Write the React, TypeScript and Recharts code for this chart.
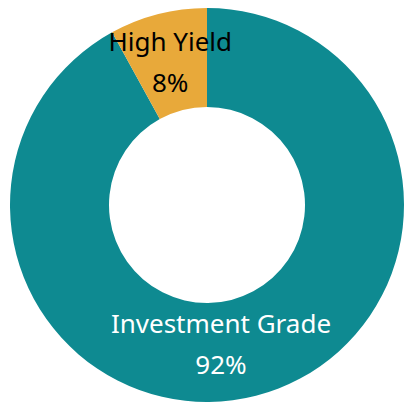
import React from "react";
import { PieChart, Pie, Cell } from "recharts";

const categories = ["Investment Grade", "High Yield"];
const shares = [92, 8];
const sliceColors = ["#0E8A91", "#E8A93A"];
const labelColors = ["#ffffff", "#000000"];

const data = categories.map((name, i) => ({ name, value: shares[i] }));

// small per-slice label adjustments (angle in degrees, radius in px)
const labelNudge = [
  { da: -9, dr: 1 },
  { da: 1, dr: -9 },
];

const RADIAN = Math.PI / 180;

const renderLabel = (props: any) => {
  const { cx, cy, midAngle, innerRadius, outerRadius, index } = props;
  const r = (innerRadius + outerRadius) / 2 + labelNudge[index].dr;
  const angle = midAngle + labelNudge[index].da;
  const x = cx + r * Math.cos(-angle * RADIAN);
  const y = cy + r * Math.sin(-angle * RADIAN);
  return (
    <text
      x={x}
      y={y}
      fill={labelColors[index]}
      textAnchor="middle"
      fontFamily="'Noto Sans', sans-serif"
      fontSize={26}
    >
      <tspan x={x} y={y - 20}>{categories[index]}</tspan>
      <tspan x={x} y={y + 21}>{`${shares[index]}%`}</tspan>
    </text>
  );
};

export default function App() {
  return (
    <div style={{ position: "absolute", left: 0, top: 0, width: 406, height: 402, background: "#fff" }}>
      <PieChart width={406} height={402} margin={{ top: 0, right: 0, bottom: 0, left: 0 }}>
        <Pie
          data={data}
          dataKey="value"
          cx={207}
          cy={205}
          innerRadius={98}
          outerRadius={197}
          startAngle={90}
          endAngle={-270}
          stroke="none"
          label={renderLabel}
          labelLine={false}
          isAnimationActive={false}
        >
          {data.map((entry, i) => (
            <Cell key={entry.name} fill={sliceColors[i]} />
          ))}
        </Pie>
      </PieChart>
    </div>
  );
}
